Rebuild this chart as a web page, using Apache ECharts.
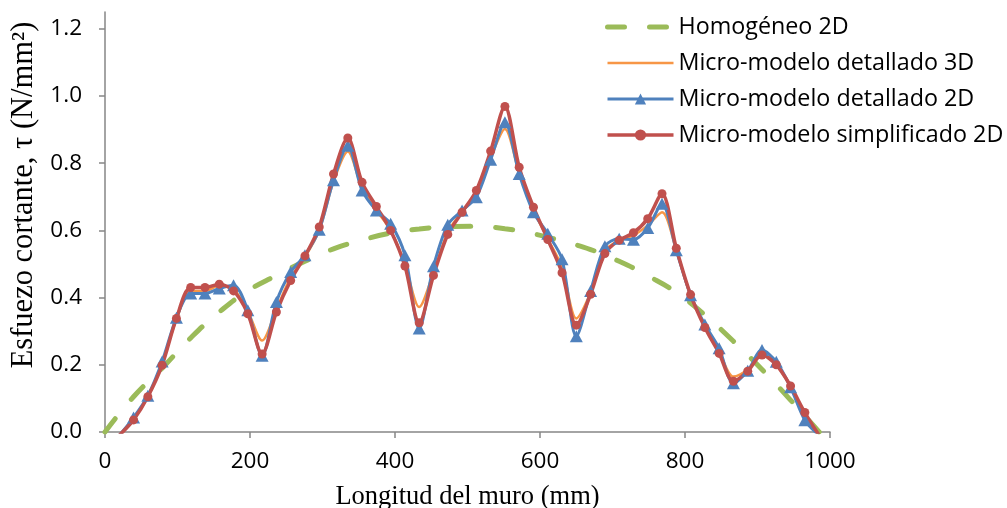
<!DOCTYPE html>
<html>
<head>
<meta charset="utf-8">
<script src="https://cdn.jsdelivr.net/npm/echarts@6/dist/echarts.min.js"></script>
<style>
html,body{margin:0;padding:0;background:#fff;}
#chart{width:1007px;height:508px;}
</style>
</head>
<body>
<div id="chart"></div>
<script>
// Data
const seriesNames = ['Homogéneo 2D', 'Micro-modelo detallado 3D', 'Micro-modelo detallado 2D', 'Micro-modelo simplificado 2D'];

// positions along the wall (mm)
const xPos = [19.7, 39.4, 59.1, 78.8, 98.5, 118.2, 137.9, 157.6, 177.3, 197, 216.7, 236.4, 256.1, 275.8, 295.5, 315.2, 334.9, 354.6, 374.3, 394,
  413.7, 433.4, 453.1, 472.8, 492.5, 512.2, 531.9, 551.6, 571.3, 591, 610.7, 630.4, 650.1, 669.8, 689.5, 709.2, 728.9, 748.6, 768.3, 788,
  807.7, 827.4, 847.1, 866.8, 886.5, 906.2, 925.9, 945.6, 965.3, 985];

const micro3D = [-0.01, 0.040, 0.105, 0.205, 0.335, 0.420, 0.420, 0.435, 0.425, 0.360, 0.272, 0.365, 0.460, 0.520, 0.600, 0.745, 0.835, 0.725, 0.660, 0.600,
  0.500, 0.372, 0.475, 0.595, 0.655, 0.705, 0.815, 0.902, 0.770, 0.660, 0.575, 0.490, 0.338, 0.415, 0.540, 0.570, 0.585, 0.615, 0.654, 0.540,
  0.405, 0.315, 0.240, 0.165, 0.185, 0.230, 0.200, 0.135, 0.050, -0.01];

const micro2D = [-0.01, 0.043, 0.108, 0.210, 0.340, 0.412, 0.412, 0.427, 0.437, 0.362, 0.227, 0.387, 0.476, 0.526, 0.602, 0.749, 0.852, 0.719, 0.659, 0.620,
  0.526, 0.308, 0.493, 0.617, 0.659, 0.699, 0.810, 0.922, 0.768, 0.654, 0.590, 0.514, 0.285, 0.420, 0.553, 0.575, 0.572, 0.607, 0.679, 0.541,
  0.407, 0.320, 0.249, 0.145, 0.182, 0.244, 0.209, 0.133, 0.035, -0.01];

const simplified2D = [-0.01, 0.036, 0.105, 0.199, 0.338, 0.430, 0.430, 0.440, 0.420, 0.352, 0.232, 0.357, 0.451, 0.524, 0.610, 0.768, 0.875, 0.743, 0.671, 0.600,
  0.494, 0.325, 0.466, 0.588, 0.654, 0.719, 0.836, 0.969, 0.788, 0.669, 0.573, 0.474, 0.318, 0.410, 0.531, 0.571, 0.593, 0.635, 0.709, 0.547,
  0.409, 0.311, 0.234, 0.151, 0.181, 0.229, 0.200, 0.137, 0.058, -0.01];

const homoX = [0, 39.4, 78.8, 118.2, 157.6, 197, 236.4, 275.8, 315.2, 354.6, 394, 433.4, 472.8, 512.2, 551.6, 591, 630.4, 669.8, 709.2, 748.6,
  788, 827.4, 866.8, 906.2, 945.6, 985];
const homoY = [0, 0.105, 0.190, 0.280, 0.357, 0.420, 0.466, 0.508, 0.545, 0.571, 0.592, 0.604, 0.611, 0.612, 0.605, 0.590, 0.568, 0.543, 0.508, 0.465,
  0.415, 0.348, 0.270, 0.186, 0.095, 0];

const xTicks = [0, 200, 400, 600, 800, 1000];
const yTicks = [0, 0.2, 0.4, 0.6, 0.8, 1.0, 1.2];

function pairs(xs, ys) { return xs.map((x, i) => [x, ys[i]]); }

const chart = echarts.init(document.getElementById('chart'), null, {renderer: 'canvas'});
const sansFont = 'Open Sans';
const serifFont = 'Liberation Serif';
const axisGray = '#868686';

chart.setOption({
  animation: false,
  backgroundColor: '#fff',
  grid: {left: 105, right: 177, top: 12, bottom: 76, containLabel: false, outerBoundsMode: 'none'},
  legend: {
    orient: 'vertical',
    left: 600, top: 10,
    itemWidth: 66, itemHeight: 14, itemGap: 12,
    textStyle: {fontFamily: sansFont, fontSize: 23.3, color: '#000', lineHeight: 24},
    lineStyle: {width: 'inherit'},
    data: [
      {name: seriesNames[0], itemStyle: {opacity: 0}},
      {name: seriesNames[1], itemStyle: {opacity: 0}},
      {name: seriesNames[2]},
      {name: seriesNames[3]}
    ]
  },
  xAxis: {
    type: 'value', min: 0, max: 1000, interval: 200,
    name: 'Longitud del muro (mm)', nameLocation: 'middle', nameGap: 52,
    nameTextStyle: {fontFamily: serifFont, fontSize: 26.5, color: '#000'},
    axisLine: {show: true, lineStyle: {color: axisGray, width: 1.5}},
    axisTick: {show: true, inside: false, length: 6, lineStyle: {color: axisGray, width: 1.5}},
    axisLabel: {fontFamily: sansFont, fontSize: 22.5, color: '#000', margin: 18,
      customValues: xTicks, formatter: v => String(v)},
    splitLine: {show: false}
  },
  yAxis: {
    type: 'value', min: 0, max: 1.25, interval: 0.2,
    name: 'Esfuezo cortante, τ (N/mm²)', nameLocation: 'middle', nameGap: 64,
    nameTextStyle: {fontFamily: serifFont, fontSize: 30.5, color: '#000', padding: [0, 0, 0, 54]},
    axisLine: {show: true, lineStyle: {color: axisGray, width: 1.5}},
    axisTick: {show: true, inside: false, length: 6, lineStyle: {color: axisGray, width: 1.5},
      customValues: yTicks},
    axisLabel: {fontFamily: sansFont, fontSize: 22.5, color: '#000', margin: 23,
      customValues: yTicks,
      formatter: v => (Math.abs(v * 5 - Math.round(v * 5)) < 1e-6 ? v.toFixed(1) : '')},
    splitLine: {show: false}
  },
  series: [
    {
      name: seriesNames[0], type: 'line', data: pairs(homoX, homoY),
      smooth: 0.5, symbol: 'none',
      lineStyle: {color: '#9BBB59', width: 5, type: [17, 25], cap: 'round'},
      itemStyle: {color: '#9BBB59'}
    },
    {
      name: seriesNames[1], type: 'line', data: pairs(xPos, micro3D),
      smooth: 0.3, symbol: 'none',
      lineStyle: {color: '#F79646', width: 2.5},
      itemStyle: {color: '#F79646'}
    },
    {
      name: seriesNames[2], type: 'line', data: pairs(xPos, micro2D),
      smooth: 0.3, symbol: 'triangle', symbolSize: [13, 12], showAllSymbol: true,
      lineStyle: {color: '#4F81BD', width: 3},
      itemStyle: {color: '#4F81BD'}
    },
    {
      name: seriesNames[3], type: 'line', data: pairs(xPos, simplified2D),
      smooth: 0.3, symbol: 'circle', symbolSize: 9, showAllSymbol: true,
      lineStyle: {color: '#C0504D', width: 3.5},
      itemStyle: {color: '#C0504D'}
    }
  ]
});
</script>
</body>
</html>
